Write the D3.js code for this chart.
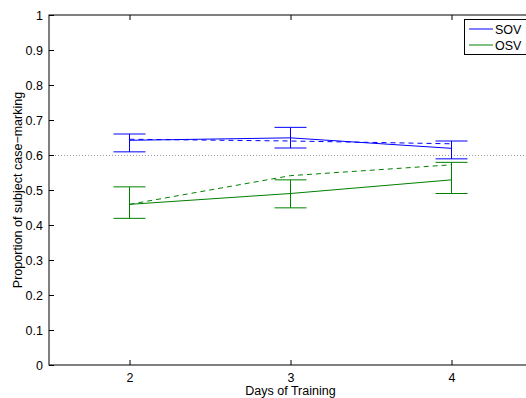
<!DOCTYPE html>
<html>
<head>
<meta charset="utf-8">
<script src="https://cdn.jsdelivr.net/npm/d3@7"></script>
<style>
  body { margin: 0; background: #fff; }
  svg { font-family: "Liberation Sans", Arial, sans-serif; }
</style>
</head>
<body>
<div id="container"><svg></svg></div>
<script>
let width = 526;
let height = 398;

// data
let days = [2, 3, 4];
let sov_mean = [0.642, 0.649, 0.619];
let sov_lo = [0.609, 0.620, 0.589];
let sov_hi = [0.660, 0.679, 0.640];
let sov_dash = [0.645, 0.640, 0.632];
let osv_mean = [0.459, 0.490, 0.529];
let osv_lo = [0.419, 0.449, 0.490];
let osv_hi = [0.509, 0.529, 0.579];
let osv_dash = [0.459, 0.541, 0.572];
let yticks = [0, 0.1, 0.2, 0.3, 0.4, 0.5, 0.6, 0.7, 0.8, 0.9, 1];
let reference = 0.6;

let plotLeft = 49, plotTop = 15, plotBottom = 365;
let fs = 12.5;

let x = d3.scaleLinear().domain([1.5, 4.5]).range([49, 532]);
let y = d3.scaleLinear().domain([0, 1]).range([plotBottom, plotTop]);

let svg = d3.select('#container').select('svg')
    .attr('width', width)
    .attr('height', height);

// dotted reference line
svg.append('line')
    .attr('x1', x(1.5)).attr('x2', x(4.5))
    .attr('y1', y(reference) + 0.5).attr('y2', y(reference) + 0.5)
    .attr('stroke', '#999').attr('stroke-width', 1)
    .attr('stroke-dasharray', '1,2');

function drawSeries(mean, lo, hi, dash, color) {
    let line = d3.line().x((d, i) => x(days[i])).y(d => y(d));
    svg.append('path').datum(mean).attr('d', line)
        .attr('fill', 'none').attr('stroke', color).attr('stroke-width', 1);
    svg.append('path').datum(dash).attr('d', line)
        .attr('fill', 'none').attr('stroke', color).attr('stroke-width', 1)
        .attr('stroke-dasharray', '5,4');
    let g = svg.append('g').attr('stroke', color).attr('stroke-width', 1);
    days.forEach((d, i) => {
        g.append('line').attr('x1', x(d)).attr('x2', x(d))
            .attr('y1', y(lo[i])).attr('y2', y(hi[i]));
        [lo[i], hi[i]].forEach(v => {
            g.append('line').attr('x1', x(d) - 16).attr('x2', x(d) + 16)
                .attr('y1', y(v)).attr('y2', y(v));
        });
    });
}
drawSeries(sov_mean, sov_lo, sov_hi, sov_dash, '#0000ff');
drawSeries(osv_mean, osv_lo, osv_hi, osv_dash, '#008000');

// axes
let yAxis = d3.axisLeft(y).tickValues(yticks).tickSize(-5).tickPadding(6)
    .tickFormat(d => d === 0 || d === 1 ? d3.format('d')(d) : d3.format('.1f')(d));
let ya = svg.append('g').attr('transform', `translate(${plotLeft},0)`).call(yAxis);
let xAxis = d3.axisBottom(x).tickValues(days).tickSize(-5).tickPadding(8).tickFormat(d3.format('d'));
let xa = svg.append('g').attr('transform', `translate(0,${plotBottom})`).call(xAxis);
let xt = svg.append('g').attr('transform', `translate(0,${plotTop})`)
    .call(d3.axisTop(x).tickValues(days).tickSize(-5).tickFormat(''));
[ya, xa, xt].forEach(a => {
    a.select('.domain').remove();
    a.selectAll('text').attr('font-size', fs).attr('fill', '#000')
        .attr('font-family', '"Liberation Sans", Arial, sans-serif');
    a.selectAll('line').attr('stroke', '#000');
});
xa.selectAll('text').attr('dy', null).attr('y', 17);

// box
svg.append('rect').attr('x', plotLeft).attr('y', plotTop)
    .attr('width', x(4.5) - plotLeft).attr('height', plotBottom - plotTop)
    .attr('fill', 'none').attr('stroke', '#000').attr('stroke-width', 1);

// labels
svg.append('text').attr('x', x(3)).attr('y', 395)
    .attr('text-anchor', 'middle').attr('font-size', fs)
    .text('Days of Training');
svg.append('text')
    .attr('transform', `translate(22,${(plotTop + plotBottom) / 2}) rotate(-90)`)
    .attr('text-anchor', 'middle').attr('font-size', fs)
    .text('Proportion of subject case\u2212marking');

// legend
let legend = svg.append('g');
legend.append('rect').attr('x', 464.5).attr('y', 19.5).attr('width', 70).attr('height', 35)
    .attr('fill', '#fff').attr('stroke', '#000');
[['SOV', '#0000ff', 29], ['OSV', '#008000', 45]].forEach(e => {
    legend.append('line').attr('x1', 469).attr('x2', 493)
        .attr('y1', e[2]).attr('y2', e[2]).attr('stroke', e[1]);
    legend.append('text').attr('x', 495).attr('y', e[2] + 4.5)
        .attr('font-size', fs).text(e[0]);
});
</script>
</body>
</html>
